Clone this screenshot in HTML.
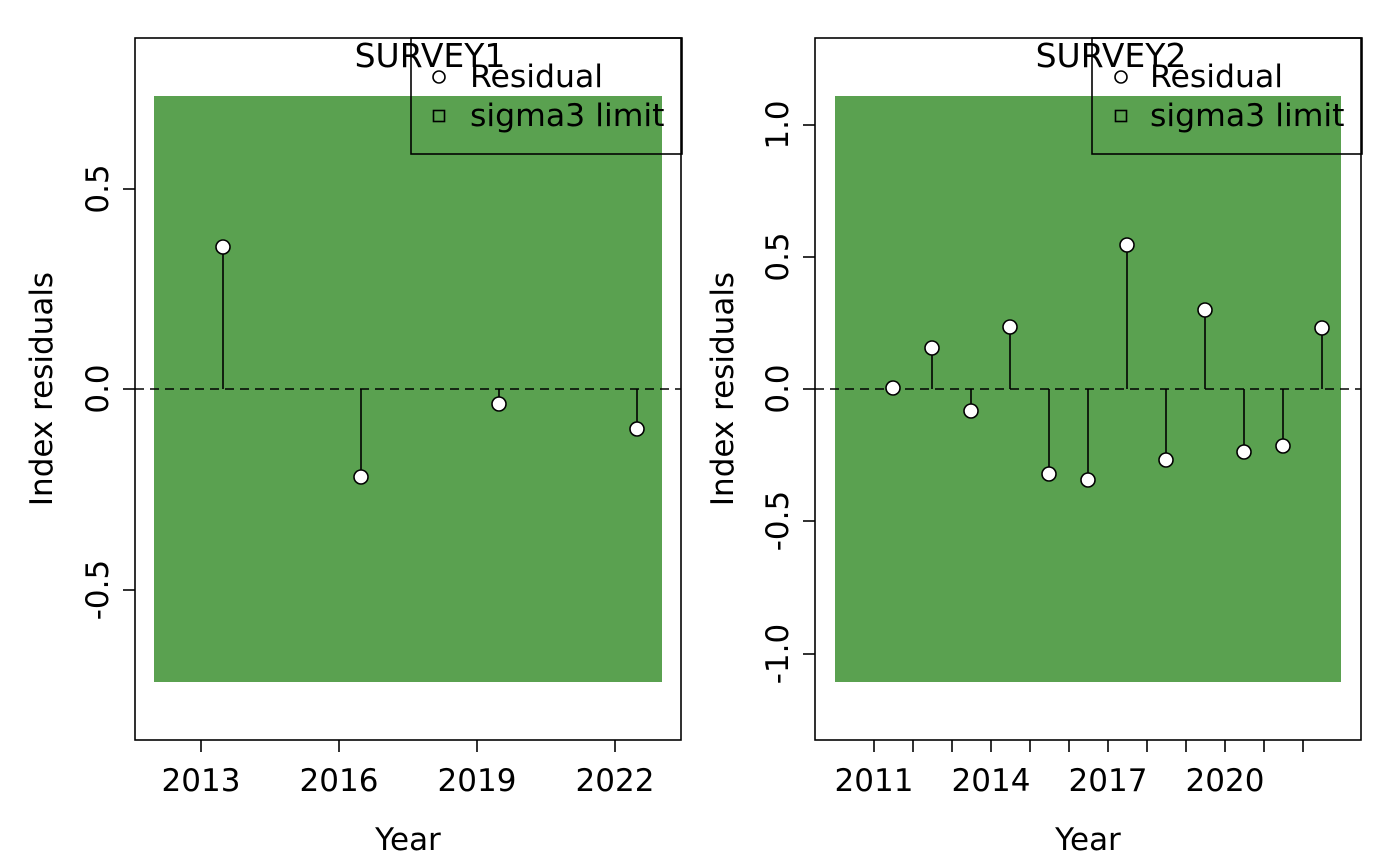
<!DOCTYPE html>
<html><head><meta charset="utf-8"><style>
html,body{margin:0;padding:0;background:#fff;}
svg{display:block;font-family:"DejaVu Sans","Liberation Sans",sans-serif;}
</style></head><body>
<svg width="1400" height="865" viewBox="0 0 1400 865" xmlns="http://www.w3.org/2000/svg">
<!-- LEFT PANEL -->
<rect x="154" y="96" width="508" height="586" fill="#5aa150"/>
<line x1="135" y1="389" x2="681" y2="389" stroke="#000" stroke-width="1.6" stroke-dasharray="9,6"/>
<g stroke="#000" stroke-width="1.6">
<line x1="223" y1="389" x2="223" y2="247"/>
<line x1="361" y1="389" x2="361" y2="477"/>
<line x1="499" y1="389" x2="499" y2="404"/>
<line x1="637" y1="389" x2="637" y2="429"/>
</g>
<g fill="#fff" stroke="#000" stroke-width="1.6">
<circle cx="223" cy="247" r="7"/><circle cx="361" cy="477" r="7"/><circle cx="499" cy="404" r="7"/><circle cx="637" cy="429" r="7"/>
</g>
<rect x="135" y="38" width="546" height="702" fill="none" stroke="#000" stroke-width="1.6"/>
<g stroke="#000" stroke-width="1.6">
<line x1="123" y1="189" x2="135" y2="189"/><line x1="123" y1="389" x2="135" y2="389"/><line x1="123" y1="590" x2="135" y2="590"/>
<line x1="201" y1="740" x2="201" y2="752"/><line x1="339" y1="740" x2="339" y2="752"/><line x1="477" y1="740" x2="477" y2="752"/><line x1="615" y1="740" x2="615" y2="752"/>
</g>
<g font-size="31" text-anchor="middle">
<text transform="translate(108,189) rotate(-90)">0.5</text>
<text transform="translate(108,389) rotate(-90)">0.0</text>
<text transform="translate(108,590) rotate(-90)">-0.5</text>
<text x="201" y="791">2013</text><text x="339" y="791">2016</text><text x="477" y="791">2019</text><text x="615" y="791">2022</text>
<text x="408" y="850">Year</text>
<text transform="translate(52,389) rotate(-90)">Index residuals</text>
</g>
<rect x="411" y="38" width="271" height="116" fill="none" stroke="#000" stroke-width="1.6"/>
<text x="430" y="67" font-size="33" text-anchor="middle">SURVEY1</text>
<circle cx="439" cy="77" r="6" fill="#fff" stroke="#000" stroke-width="1.6"/>
<rect x="433.5" y="110.5" width="11" height="11" fill="none" stroke="#000" stroke-width="1.6"/>
<text x="470" y="87" font-size="31.5">Residual</text>
<text x="470" y="126" font-size="31.5">sigma3 limit</text>

<!-- RIGHT PANEL -->
<rect x="835" y="96" width="506" height="586" fill="#5aa150"/>
<line x1="815" y1="389" x2="1361" y2="389" stroke="#000" stroke-width="1.6" stroke-dasharray="9,6"/>
<g stroke="#000" stroke-width="1.6">
<line x1="893" y1="389" x2="893" y2="388"/>
<line x1="932" y1="389" x2="932" y2="348"/>
<line x1="971" y1="389" x2="971" y2="411"/>
<line x1="1010" y1="389" x2="1010" y2="327"/>
<line x1="1049" y1="389" x2="1049" y2="474"/>
<line x1="1088" y1="389" x2="1088" y2="480"/>
<line x1="1127" y1="389" x2="1127" y2="245"/>
<line x1="1166" y1="389" x2="1166" y2="460"/>
<line x1="1205" y1="389" x2="1205" y2="310"/>
<line x1="1244" y1="389" x2="1244" y2="452"/>
<line x1="1283" y1="389" x2="1283" y2="446"/>
<line x1="1322" y1="389" x2="1322" y2="328"/>
</g>
<g fill="#fff" stroke="#000" stroke-width="1.6">
<circle cx="893" cy="388" r="7"/><circle cx="932" cy="348" r="7"/><circle cx="971" cy="411" r="7"/><circle cx="1010" cy="327" r="7"/>
<circle cx="1049" cy="474" r="7"/><circle cx="1088" cy="480" r="7"/><circle cx="1127" cy="245" r="7"/><circle cx="1166" cy="460" r="7"/>
<circle cx="1205" cy="310" r="7"/><circle cx="1244" cy="452" r="7"/><circle cx="1283" cy="446" r="7"/><circle cx="1322" cy="328" r="7"/>
</g>
<rect x="815" y="38" width="546" height="702" fill="none" stroke="#000" stroke-width="1.6"/>
<g stroke="#000" stroke-width="1.6">
<line x1="803" y1="125" x2="815" y2="125"/><line x1="803" y1="257" x2="815" y2="257"/><line x1="803" y1="389" x2="815" y2="389"/><line x1="803" y1="521" x2="815" y2="521"/><line x1="803" y1="654" x2="815" y2="654"/>
<line x1="874" y1="740" x2="874" y2="752"/><line x1="913" y1="740" x2="913" y2="752"/><line x1="952" y1="740" x2="952" y2="752"/><line x1="991" y1="740" x2="991" y2="752"/>
<line x1="1030" y1="740" x2="1030" y2="752"/><line x1="1069" y1="740" x2="1069" y2="752"/><line x1="1108" y1="740" x2="1108" y2="752"/><line x1="1147" y1="740" x2="1147" y2="752"/>
<line x1="1186" y1="740" x2="1186" y2="752"/><line x1="1225" y1="740" x2="1225" y2="752"/><line x1="1264" y1="740" x2="1264" y2="752"/><line x1="1303" y1="740" x2="1303" y2="752"/>
</g>
<g font-size="31" text-anchor="middle">
<text transform="translate(788,125) rotate(-90)">1.0</text>
<text transform="translate(788,257) rotate(-90)">0.5</text>
<text transform="translate(788,389) rotate(-90)">0.0</text>
<text transform="translate(788,521) rotate(-90)">-0.5</text>
<text transform="translate(788,654) rotate(-90)">-1.0</text>
<text x="874" y="791">2011</text><text x="991" y="791">2014</text><text x="1108" y="791">2017</text><text x="1225" y="791">2020</text>
<text x="1088" y="850">Year</text>
<text transform="translate(733,389) rotate(-90)">Index residuals</text>
</g>
<rect x="1092" y="38" width="270" height="116" fill="none" stroke="#000" stroke-width="1.6"/>
<text x="1111" y="67" font-size="33" text-anchor="middle">SURVEY2</text>
<circle cx="1121" cy="77" r="6" fill="#fff" stroke="#000" stroke-width="1.6"/>
<rect x="1115.5" y="110.5" width="11" height="11" fill="none" stroke="#000" stroke-width="1.6"/>
<text x="1150" y="87" font-size="31.5">Residual</text>
<text x="1150" y="126" font-size="31.5">sigma3 limit</text>
</svg>
</body></html>
